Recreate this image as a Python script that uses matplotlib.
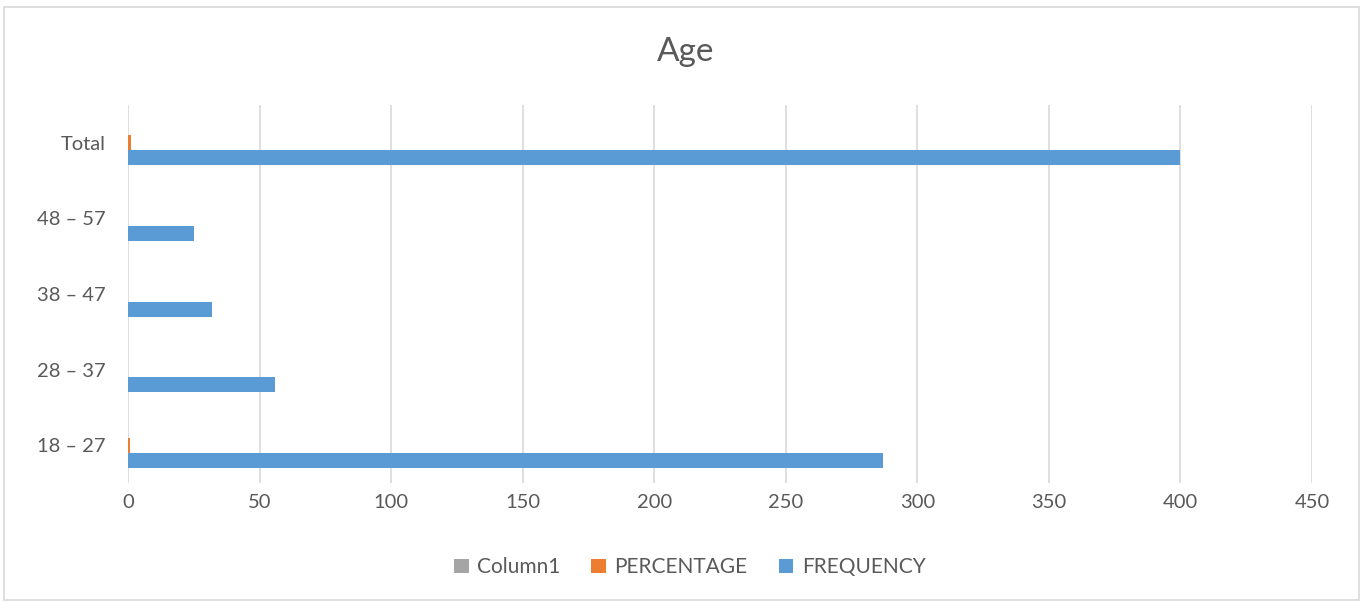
import matplotlib
matplotlib.use("Agg")
import matplotlib.pyplot as plt
import numpy as np
from matplotlib.patches import Rectangle

categories = ["18 – 27", "28 – 37", "38 – 47", "48 – 57", "Total"]
column1 = [0, 0, 0, 0, 0]
percentage = [0.7175, 0.14, 0.08, 0.0625, 1.0]
frequency = [287, 56, 32, 25, 400]

plt.rcParams['font.family'] = ['Lato', 'DejaVu Sans']
text_color = "#595959"

fig = plt.figure(figsize=(13.63, 6.02), dpi=100)
ax = fig.add_axes([0.0939, 0.1977, 0.8687, 0.6279])

y = np.arange(len(categories))
h = 0.2
ax.barh(y + h, column1, height=h, color="#a5a5a5", label="Column1")
ax.barh(y, percentage, height=h, color="#ed7d31", label="PERCENTAGE")
ax.barh(y - h, frequency, height=h, color="#5b9bd5", label="FREQUENCY")

ax.set_xlim(0, 450)
ax.set_ylim(-0.5, len(categories) - 0.5)
ax.set_xticks(np.arange(0, 451, 50))
ax.set_yticks(y)
ax.set_yticklabels(categories)
ax.xaxis.grid(True, color="#d9d9d9", linewidth=1.2)
ax.set_axisbelow(True)
for s in ax.spines.values():
    s.set_visible(False)
ax.tick_params(axis="both", length=0, labelsize=14.5, colors=text_color)
ax.tick_params(axis="y", pad=16)
ax.tick_params(axis="x", pad=8)

fig.text(0.503, 0.913, "Age", fontsize=24, color=text_color, ha="center", va="center")

handles, labels = ax.get_legend_handles_labels()
fig.legend(handles, labels, loc="center", bbox_to_anchor=(0.506, 0.058), ncol=3,
           frameon=False, fontsize=15, labelcolor=text_color,
           handlelength=0.7, handleheight=0.7, handletextpad=0.4, columnspacing=1.5)

fig.patches.append(Rectangle((0.003, 0.003), 0.994, 0.985, transform=fig.transFigure,
                             fill=False, edgecolor="#d9d9d9", linewidth=1.2))

fig.savefig("out.png", dpi=100)
